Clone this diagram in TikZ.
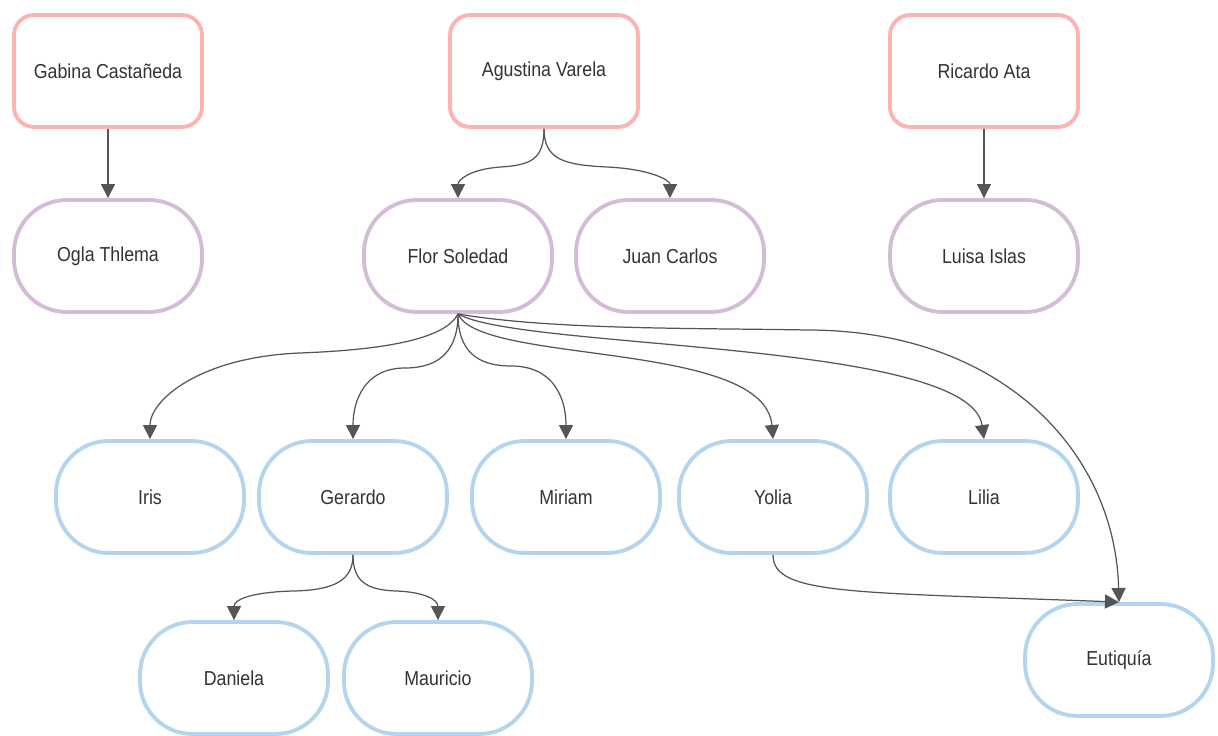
\documentclass[tikz,border=0pt]{standalone}
\usepackage{fontspec}
\setmainfont{Liberation Sans}[FakeStretch=0.88]
\usetikzlibrary{arrows.meta}
\definecolor{rosa}{HTML}{FFB3B0}
\definecolor{lila}{HTML}{D4BCD8}
\definecolor{celeste}{HTML}{B3D6EE}
\definecolor{texto}{HTML}{333333}
\definecolor{flecha}{HTML}{555555}
\begin{document}
\begin{tikzpicture}[x=0.02cm, y=-0.02cm,
    padre/.style={draw=rosa, line width=2.2pt, rounded corners=0.4cm, fill=white,
        minimum width=3.76cm, minimum height=2.24cm, text=texto, font=\fontsize{11.5}{13}\selectfont},
    hijo/.style={padre, draw=lila, rounded corners=1.05cm},
    nieto/.style={padre, draw=celeste, rounded corners=1.05cm},
    rel/.style={draw=flecha, line width=0.7pt, -{Triangle[length=8pt,width=8pt]}}]
    \useasboundingbox (0,0) rectangle (1218,736);

    % Primera generación
    \node[padre] (gabina) at (108,71) {Gabina Castañeda};
    \node[padre] (agustina) at (544,71) {Agustina Varela};
    \node[padre] (ricardo) at (984,71) {Ricardo Ata};

    % Segunda generación
    \node[hijo] (ogla) at (108,256) {Ogla Thlema};
    \node[hijo] (flor) at (458,256) {Flor Soledad};
    \node[hijo] (juan) at (670,256) {Juan Carlos};
    \node[hijo] (luisa) at (984,256) {Luisa Islas};

    % Tercera generación
    \node[nieto] (iris) at (150,497) {Iris};
    \node[nieto] (gerardo) at (353,497) {Gerardo};
    \node[nieto] (miriam) at (566,497) {Miriam};
    \node[nieto] (yolia) at (773,497) {Yolia};
    \node[nieto] (lilia) at (984,497) {Lilia};
    \node[nieto] (daniela) at (234,678) {Daniela};
    \node[nieto] (mauricio) at (438,678) {Mauricio};
    \node[nieto] (eutiquia) at (1119,660) {Eutiquía};

    % Relaciones
    \draw[rel] (gabina.south) -- (ogla.north);
    \draw[rel] (ricardo.south) -- (luisa.north);
    \draw[rel] (agustina.south) .. controls (544,160) and (530,165) .. (501,167)
        .. controls (470,169) and (458,180) .. (flor.north);
    \draw[rel] (agustina.south) .. controls (544,160) and (565,165) .. (607,167)
        .. controls (650,169) and (670,180) .. (juan.north);

    \draw[rel] (flor.south) .. controls (445,340) and (380,350) .. (300,353)
        .. controls (200,357) and (150,400) .. (iris.north);
    \draw[rel] (flor.south) .. controls (458,350) and (440,368) .. (405,368)
        .. controls (365,368) and (353,400) .. (gerardo.north);
    \draw[rel] (flor.south) .. controls (458,350) and (476,366) .. (511,366)
        .. controls (555,366) and (566,400) .. (miriam.north);
    \draw[rel] (flor.south) .. controls (480,365) and (765,340) .. (yolia.north);
    \draw[rel] (flor.south) .. controls (520,350) and (970,340) .. (lilia.north);
    \draw[rel] (flor.south) .. controls (550,330) and (700,328) .. (807,330)
        .. controls (1000,330) and (1115,450) .. (eutiquia.north);

    \draw[rel] (gerardo.south) .. controls (353,580) and (335,590) .. (294,591)
        .. controls (250,592) and (234,600) .. (daniela.north);
    \draw[rel] (gerardo.south) .. controls (353,580) and (365,590) .. (396,591)
        .. controls (425,592) and (438,600) .. (mauricio.north);
    \draw[rel] (yolia.south) .. controls (773,595) and (850,592) .. (eutiquia.north);
\end{tikzpicture}
\end{document}
